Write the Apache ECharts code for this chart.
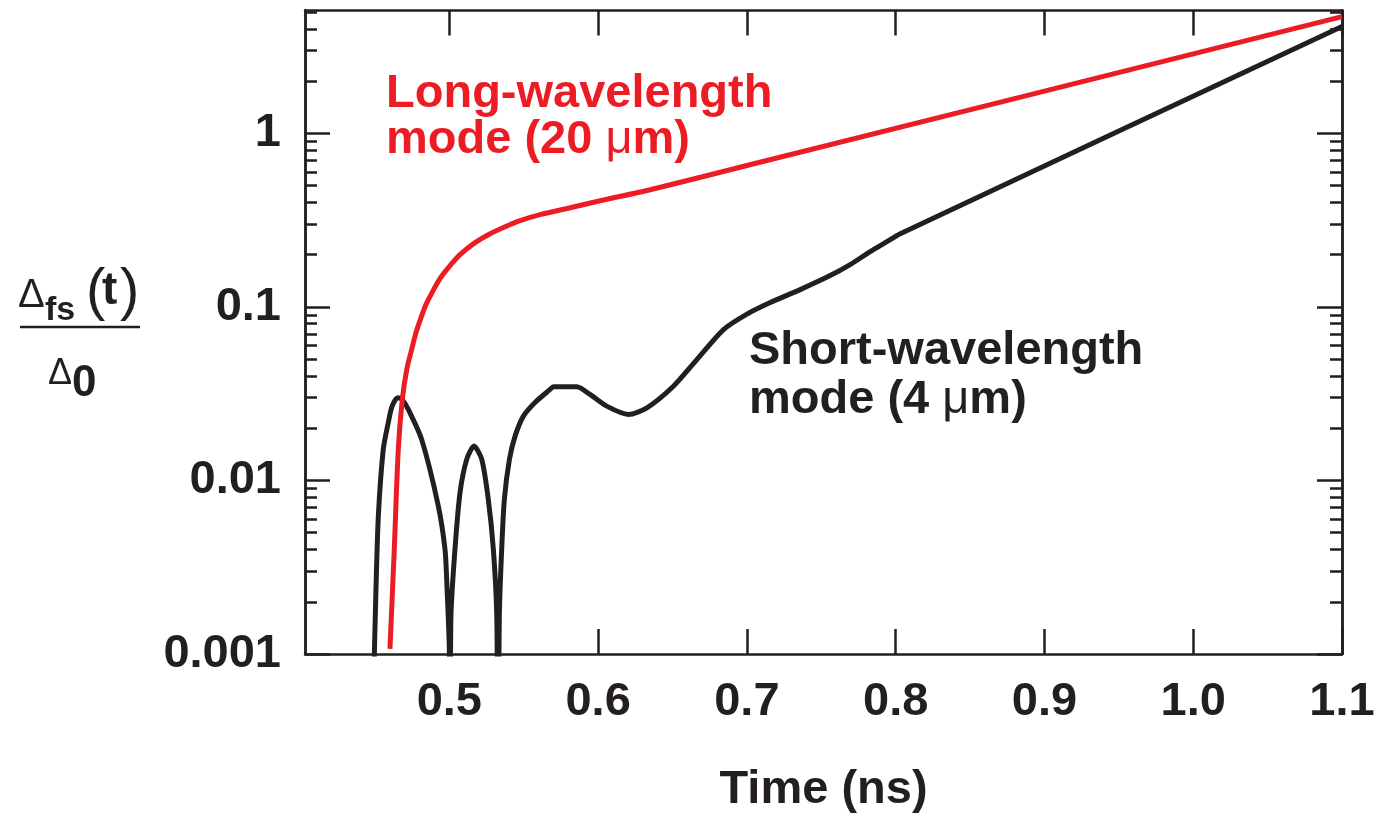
<!DOCTYPE html>
<html>
<head>
<meta charset="utf-8">
<script src="https://cdn.jsdelivr.net/npm/echarts@6/dist/echarts.min.js"></script>
<style>
html,body{margin:0;padding:0;background:#fff;}
#chart{width:1383px;height:825px;}
</style>
</head>
<body>
<div id="chart"></div>
<script>
// ---- data ----
const xTicks = [0.5, 0.6, 0.7, 0.8, 0.9, 1.0, 1.1];
const xTickLabels = ['0.5', '0.6', '0.7', '0.8', '0.9', '1.0', '1.1'];
const yMajor = [0.001, 0.01, 0.1, 1];
const yTickLabels = ['0.001', '0.01', '0.1', '1'];
const yMinor = [0.002, 0.003, 0.004, 0.005, 0.006, 0.007, 0.008, 0.009,
                0.02, 0.03, 0.04, 0.05, 0.06, 0.07, 0.08, 0.09,
                0.2, 0.3, 0.4, 0.5, 0.6, 0.7, 0.8, 0.9,
                2, 3, 4, 5];

const longTime  = [0.4601, 0.4630, 0.4657, 0.4684, 0.4714, 0.4747, 0.4776, 0.4810, 0.4843, 0.4884, 0.4937, 0.5005, 0.5072,
                   0.5173, 0.5274, 0.5375, 0.5476, 0.5610, 0.5812, 0.6014, 0.6350, 0.700, 1.100];
const longValue = [0.00107, 0.00401, 0.0151, 0.0293, 0.0436, 0.0568, 0.0711, 0.0868, 0.1031, 0.1209, 0.1455, 0.1728, 0.2000,
                   0.2344, 0.2641, 0.2897, 0.3137, 0.3398, 0.3726, 0.4089, 0.4731, 0.652, 4.70];

const shortTime  = [0.4490, 0.4507, 0.4523, 0.4556, 0.4590, 0.4615, 0.4653, 0.4682, 0.4724, 0.4814, 0.4926, 0.4971, 0.4983, 0.5000, 0.5005,
                    0.5011, 0.5038, 0.5072, 0.5117, 0.5166, 0.5218, 0.5262, 0.5296, 0.5319, 0.5327,
                    0.5336, 0.5352, 0.5370, 0.5404, 0.5442, 0.5498, 0.5576, 0.5677, 0.5699, 0.5857, 0.5946, 0.6058, 0.6204, 0.6328,
                    0.6506, 0.6664, 0.6843, 0.6995, 0.7157, 0.7358, 0.7560, 0.7694, 0.7829, 0.7930, 0.8031, 1.100];
const shortValue = [0.0006, 0.00236, 0.00624, 0.0151, 0.0216, 0.0267, 0.0300, 0.0293, 0.0257, 0.01724, 0.00713, 0.00401, 0.00259, 0.00107, 0.0002,
                    0.00166, 0.00401, 0.00851, 0.01322, 0.01577, 0.01322, 0.00778, 0.00401, 0.00166, 0.0002,
                    0.00166, 0.00401, 0.00778, 0.01322, 0.0180, 0.02347, 0.02814, 0.03343, 0.03465, 0.03465, 0.03129, 0.0268, 0.0240, 0.02622,
                    0.0349, 0.0497, 0.0740, 0.0903, 0.1059, 0.1257, 0.1514, 0.1751, 0.2080, 0.2344, 0.2641, 4.12];

// ---- styles ----
const INK = '#231f20';
const RED = '#ec1c24';
const FONT = '"Liberation Sans", Arial, Helvetica, sans-serif';

const chart = echarts.init(document.getElementById('chart'), null, {renderer: 'canvas'});

function xLabel(v) {
  const i = xTicks.findIndex(t => Math.abs(t - v) < 1e-6);
  return i >= 0 ? xTickLabels[i] : '';
}
function yLabel(v) {
  const i = yMajor.findIndex(t => Math.abs(Math.log10(t) - Math.log10(v)) < 1e-6);
  return i >= 0 ? yTickLabels[i] : '';
}

const axisLineStyle = {color: INK, width: 2.5};
const xMin = 0.403, xMax = 1.1, yMin = 0.001, yMax = 5.1;

function makeX(position, showLabel) {
  return {
    type: 'value', position: position, min: xMin, max: xMax,
    axisLine: {show: true, onZero: false, lineStyle: axisLineStyle},
    axisTick: {show: true, inside: true, length: 25, lineStyle: {color: INK, width: 2.5}, customValues: xTicks},
    axisLabel: showLabel ? {
      show: true, customValues: xTicks, formatter: xLabel, margin: 25,
      fontSize: 47, fontWeight: 'bold', fontFamily: FONT, color: INK
    } : {show: false},
    splitLine: {show: false},
    name: showLabel ? 'Time (ns)' : '',
    nameLocation: 'middle', nameGap: 113,
    nameTextStyle: {fontSize: 47, fontWeight: 'bold', fontFamily: FONT, color: INK}
  };
}
function makeY(position, values, len, showLabel) {
  return {
    type: 'log', logBase: 10, position: position, min: yMin, max: yMax,
    axisLine: {show: true, onZero: false, lineStyle: axisLineStyle},
    axisTick: {show: true, inside: true, length: len, lineStyle: {color: INK, width: 2.5}, customValues: values},
    axisLabel: showLabel ? {
      show: true, customValues: values, formatter: yLabel, margin: 24, padding: [6, 0, 0, 0],
      fontSize: 47, fontWeight: 'bold', fontFamily: FONT, color: INK
    } : {show: false},
    splitLine: {show: false},
    minorTick: {show: false}
  };
}

function txt(x, y, s, size, weight) {
  return {type: 'text', x: x, y: y, style: {
    text: s, fill: INK, fontSize: size, fontWeight: weight, fontFamily: FONT,
    verticalAlign: 'middle', align: 'left'}};
}

const option = {
  backgroundColor: '#ffffff',
  animation: false,
  grid: {left: 305, right: 41, top: 10.5, bottom: 171, containLabel: false},
  xAxis: [makeX('bottom', true), makeX('top', false)],
  yAxis: [
    makeY('left', yMajor, 25, true),
    makeY('left', yMinor, 12, false),
    makeY('right', yMajor, 25, false),
    makeY('right', yMinor, 12, false)
  ],
  series: [
    {
      type: 'line', name: 'Short-wavelength mode (4 μm)', xAxisIndex: 0, yAxisIndex: 0,
      data: shortTime.map((t, i) => [t, shortValue[i]]),
      showSymbol: false, symbol: 'none', smooth: 0.25, clip: true,
      lineStyle: {color: INK, width: 5}, z: 3
    },
    {
      type: 'line', name: 'Long-wavelength mode (20 μm)', xAxisIndex: 0, yAxisIndex: 0,
      data: longTime.map((t, i) => [t, longValue[i]]),
      showSymbol: false, symbol: 'none', smooth: 0.3, clip: true,
      lineStyle: {color: RED, width: 5}, z: 4
    }
  ],
  graphic: [
    // annotations
    {type: 'text', left: 386, top: 71, style: {text: 'Long-wavelength', fill: RED, fontSize: 47, fontWeight: 'bold', fontFamily: FONT}},
    {type: 'text', left: 386, top: 117, style: {text: 'mode (20 {mu|μ}m)', fill: RED, fontSize: 47, fontWeight: 'bold', fontFamily: FONT,
      rich: {mu: {fontWeight: 'normal', fontSize: 47, fontFamily: FONT, fill: RED}}}},
    {type: 'text', left: 749, top: 328, style: {text: 'Short-wavelength', fill: INK, fontSize: 47, fontWeight: 'bold', fontFamily: FONT}},
    {type: 'text', left: 749, top: 377, style: {text: 'mode (4 {mu|μ}m)', fill: INK, fontSize: 47, fontWeight: 'bold', fontFamily: FONT,
      rich: {mu: {fontWeight: 'normal', fontSize: 47, fontFamily: FONT, fill: INK}}}},
    // y axis title: Δfs(t) / Δ0
    txt(18, 296, '\u0394', 40, 'normal'),
    txt(45, 311, 'fs', 34, 'bold'),
    txt(86, 293, '(', 58, 'normal'),
    txt(102, 291, 't', 46, 'bold'),
    txt(120, 293, ')', 58, 'normal'),
    {type: 'line', shape: {x1: 20, y1: 327, x2: 140, y2: 327}, style: {stroke: INK, lineWidth: 2.5}},
    txt(48, 374, '\u0394', 36, 'normal'),
    txt(72, 384, '0', 44, 'bold')
  ]
};
chart.setOption(option);
</script>
</body>
</html>
